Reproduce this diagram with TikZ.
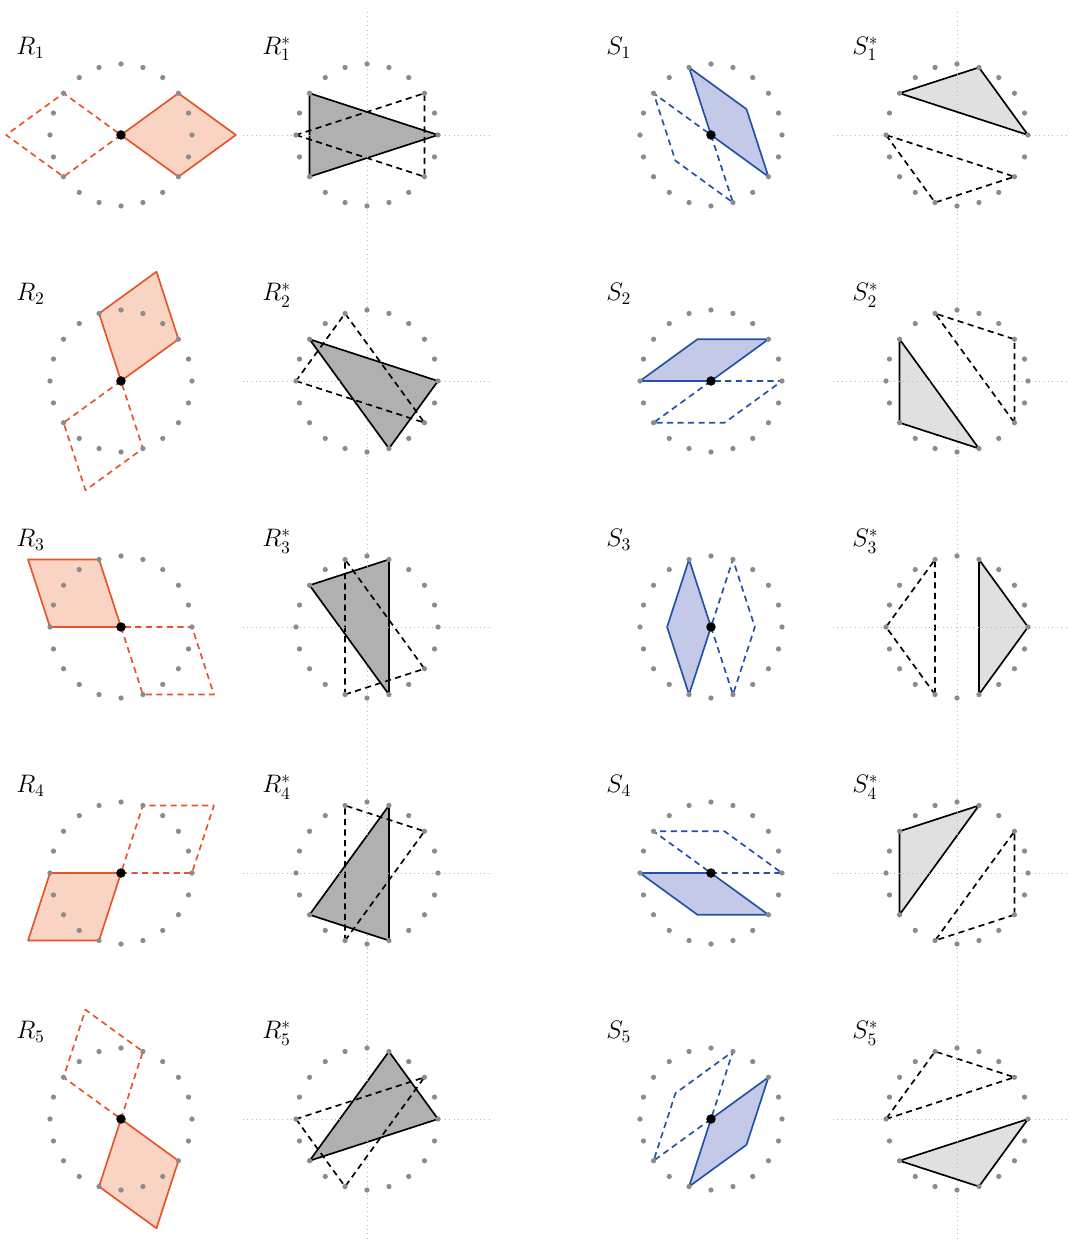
\documentclass[tikz,border=0pt]{standalone}
\usepackage{amsmath}
\usepackage{tikz}
\usepackage{xcolor}
\definecolor{rline}{HTML}{E8532B}
\definecolor{rfill}{HTML}{FAD4C2}
\definecolor{sline}{HTML}{2152A6}
\definecolor{sfill}{HTML}{C4C9E8}
% rhombus at a centre, spanned by two unit directions
\newcommand{\rh}[4]{\draw[#4, shift={(#1)}] (0,0) -- (#2:1) -- ++(#3:1) -- (#3:1) -- cycle;}
% triangle on three points of the ring
\newcommand{\tri}[5]{\draw[#5, shift={(#1)}] (#2:1) -- (#3:1) -- (#4:1) -- cycle;}

\begin{document}
\begin{tikzpicture}[
      x=1.42cm, y=1.42cm,
      font=\Large,
      edgeline/.style={line width=0.95pt, line join=round},
      dashline/.style={edgeline, dash pattern=on 3.5pt off 2.5pt},
      rhombR/.style={edgeline, draw=rline, fill=rfill},
      rhombRd/.style={dashline, draw=rline},
      rhombS/.style={edgeline, draw=sline, fill=sfill},
      rhombSd/.style={dashline, draw=sline},
      triR/.style={edgeline, draw=black, fill=black!31},
      triS/.style={edgeline, draw=black, fill=black!12},
      trid/.style={dashline, draw=black},
      axis/.style={draw=black!28, dotted, line width=0.5pt},
      ringdot/.style={fill=black!45},
      lbl/.style={anchor=base west, inner sep=0pt}
    ]
    \useasboundingbox (0,0) rectangle (15.056,-17.465);

    % --- panel centres -----------------------------------------------------
    \coordinate (R1)  at (1.704,-1.901);  \coordinate (Rs1) at (5.169,-1.901);
    \coordinate (S1)  at (10.014,-1.901); \coordinate (Ss1) at (13.479,-1.901);
    \coordinate (R2)  at (1.704,-5.366);  \coordinate (Rs2) at (5.169,-5.366);
    \coordinate (S2)  at (10.014,-5.366); \coordinate (Ss2) at (13.479,-5.366);
    \coordinate (R3)  at (1.704,-8.831);  \coordinate (Rs3) at (5.169,-8.831);
    \coordinate (S3)  at (10.014,-8.831); \coordinate (Ss3) at (13.479,-8.831);
    \coordinate (R4)  at (1.704,-12.296); \coordinate (Rs4) at (5.169,-12.296);
    \coordinate (S4)  at (10.014,-12.296);\coordinate (Ss4) at (13.479,-12.296);
    \coordinate (R5)  at (1.704,-15.761); \coordinate (Rs5) at (5.169,-15.761);
    \coordinate (S5)  at (10.014,-15.761);\coordinate (Ss5) at (13.479,-15.761);

    % --- thick rhombi ------------------------------------------------------
    \rh{R1}{36}{-36}{rhombR}   \rh{R1}{216}{144}{rhombRd}
    \rh{R2}{36}{108}{rhombR}   \rh{R2}{216}{288}{rhombRd}
    \rh{R3}{108}{180}{rhombR}  \rh{R3}{288}{0}{rhombRd}
    \rh{R4}{180}{252}{rhombR}  \rh{R4}{0}{72}{rhombRd}
    \rh{R5}{252}{324}{rhombR}  \rh{R5}{72}{144}{rhombRd}

    % --- thin rhombi -------------------------------------------------------
    \rh{S1}{108}{324}{rhombS}  \rh{S1}{288}{144}{rhombSd}
    \rh{S2}{36}{180}{rhombS}   \rh{S2}{216}{0}{rhombSd}
    \rh{S3}{108}{252}{rhombS}  \rh{S3}{288}{72}{rhombSd}
    \rh{S4}{180}{324}{rhombS}  \rh{S4}{0}{144}{rhombSd}
    \rh{S5}{36}{252}{rhombS}   \rh{S5}{216}{72}{rhombSd}

    % --- starred triangles -------------------------------------------------
    \tri{Rs1}{0}{144}{216}{triR}  \tri{Rs1}{180}{324}{36}{trid}
    \tri{Rs2}{0}{144}{288}{triR}  \tri{Rs2}{180}{324}{108}{trid}
    \tri{Rs3}{72}{144}{288}{triR} \tri{Rs3}{252}{324}{108}{trid}
    \tri{Rs4}{72}{216}{288}{triR} \tri{Rs4}{252}{36}{108}{trid}
    \tri{Rs5}{0}{72}{216}{triR}   \tri{Rs5}{180}{252}{36}{trid}
    \tri{Ss1}{0}{72}{144}{triS}   \tri{Ss1}{180}{252}{324}{trid}
    \tri{Ss2}{144}{216}{288}{triS} \tri{Ss2}{324}{36}{108}{trid}
    \tri{Ss3}{72}{0}{288}{triS}   \tri{Ss3}{252}{180}{108}{trid}
    \tri{Ss4}{144}{72}{216}{triS} \tri{Ss4}{324}{252}{36}{trid}
    \tri{Ss5}{0}{216}{288}{triS}  \tri{Ss5}{180}{36}{108}{trid}

    % --- dotted axes of the starred panels ---------------------------------
    \draw[axis] (5.169,-0.169) -- (5.169,-17.465);
    \draw[axis] (13.479,-0.169) -- (13.479,-17.465);
    \foreach \i in {1,...,5} {
      \draw[axis] (Rs\i) ++(-1.75,0) -- ++(3.5,0);
      \draw[axis] (Ss\i) ++(-1.75,0) -- ++(3.5,0);
    }

    % --- rings of twenty points, centres -----------------------------------
    \foreach \p in {R1,Rs1,S1,Ss1,R2,Rs2,S2,Ss2,R3,Rs3,S3,Ss3,
                    R4,Rs4,S4,Ss4,R5,Rs5,S5,Ss5}
      \foreach \k in {0,...,19}
        \fill[ringdot] (\p) ++(18*\k:1) circle (1.5pt);
    \foreach \p in {R1,R2,R3,R4,R5,S1,S2,S3,S4,S5}
      \fill (\p) circle (2.7pt);

    % --- labels ------------------------------------------------------------
    \foreach \n/\t in {R1/R_1, Rs1/R^*_1, S1/S_1, Ss1/S^*_1,
                       R2/R_2, Rs2/R^*_2, S2/S_2, Ss2/S^*_2,
                       R3/R_3, Rs3/R^*_3, S3/S_3, Ss3/S^*_3,
                       R4/R_4, Rs4/R^*_4, S4/S_4, Ss4/S^*_4,
                       R5/R_5, Rs5/R^*_5, S5/S_5, Ss5/S^*_5}
      \node[lbl] (l\n) at ([shift={(-1.48,1.13)}]\n) {$\t$};
  \end{tikzpicture}
\end{document}
